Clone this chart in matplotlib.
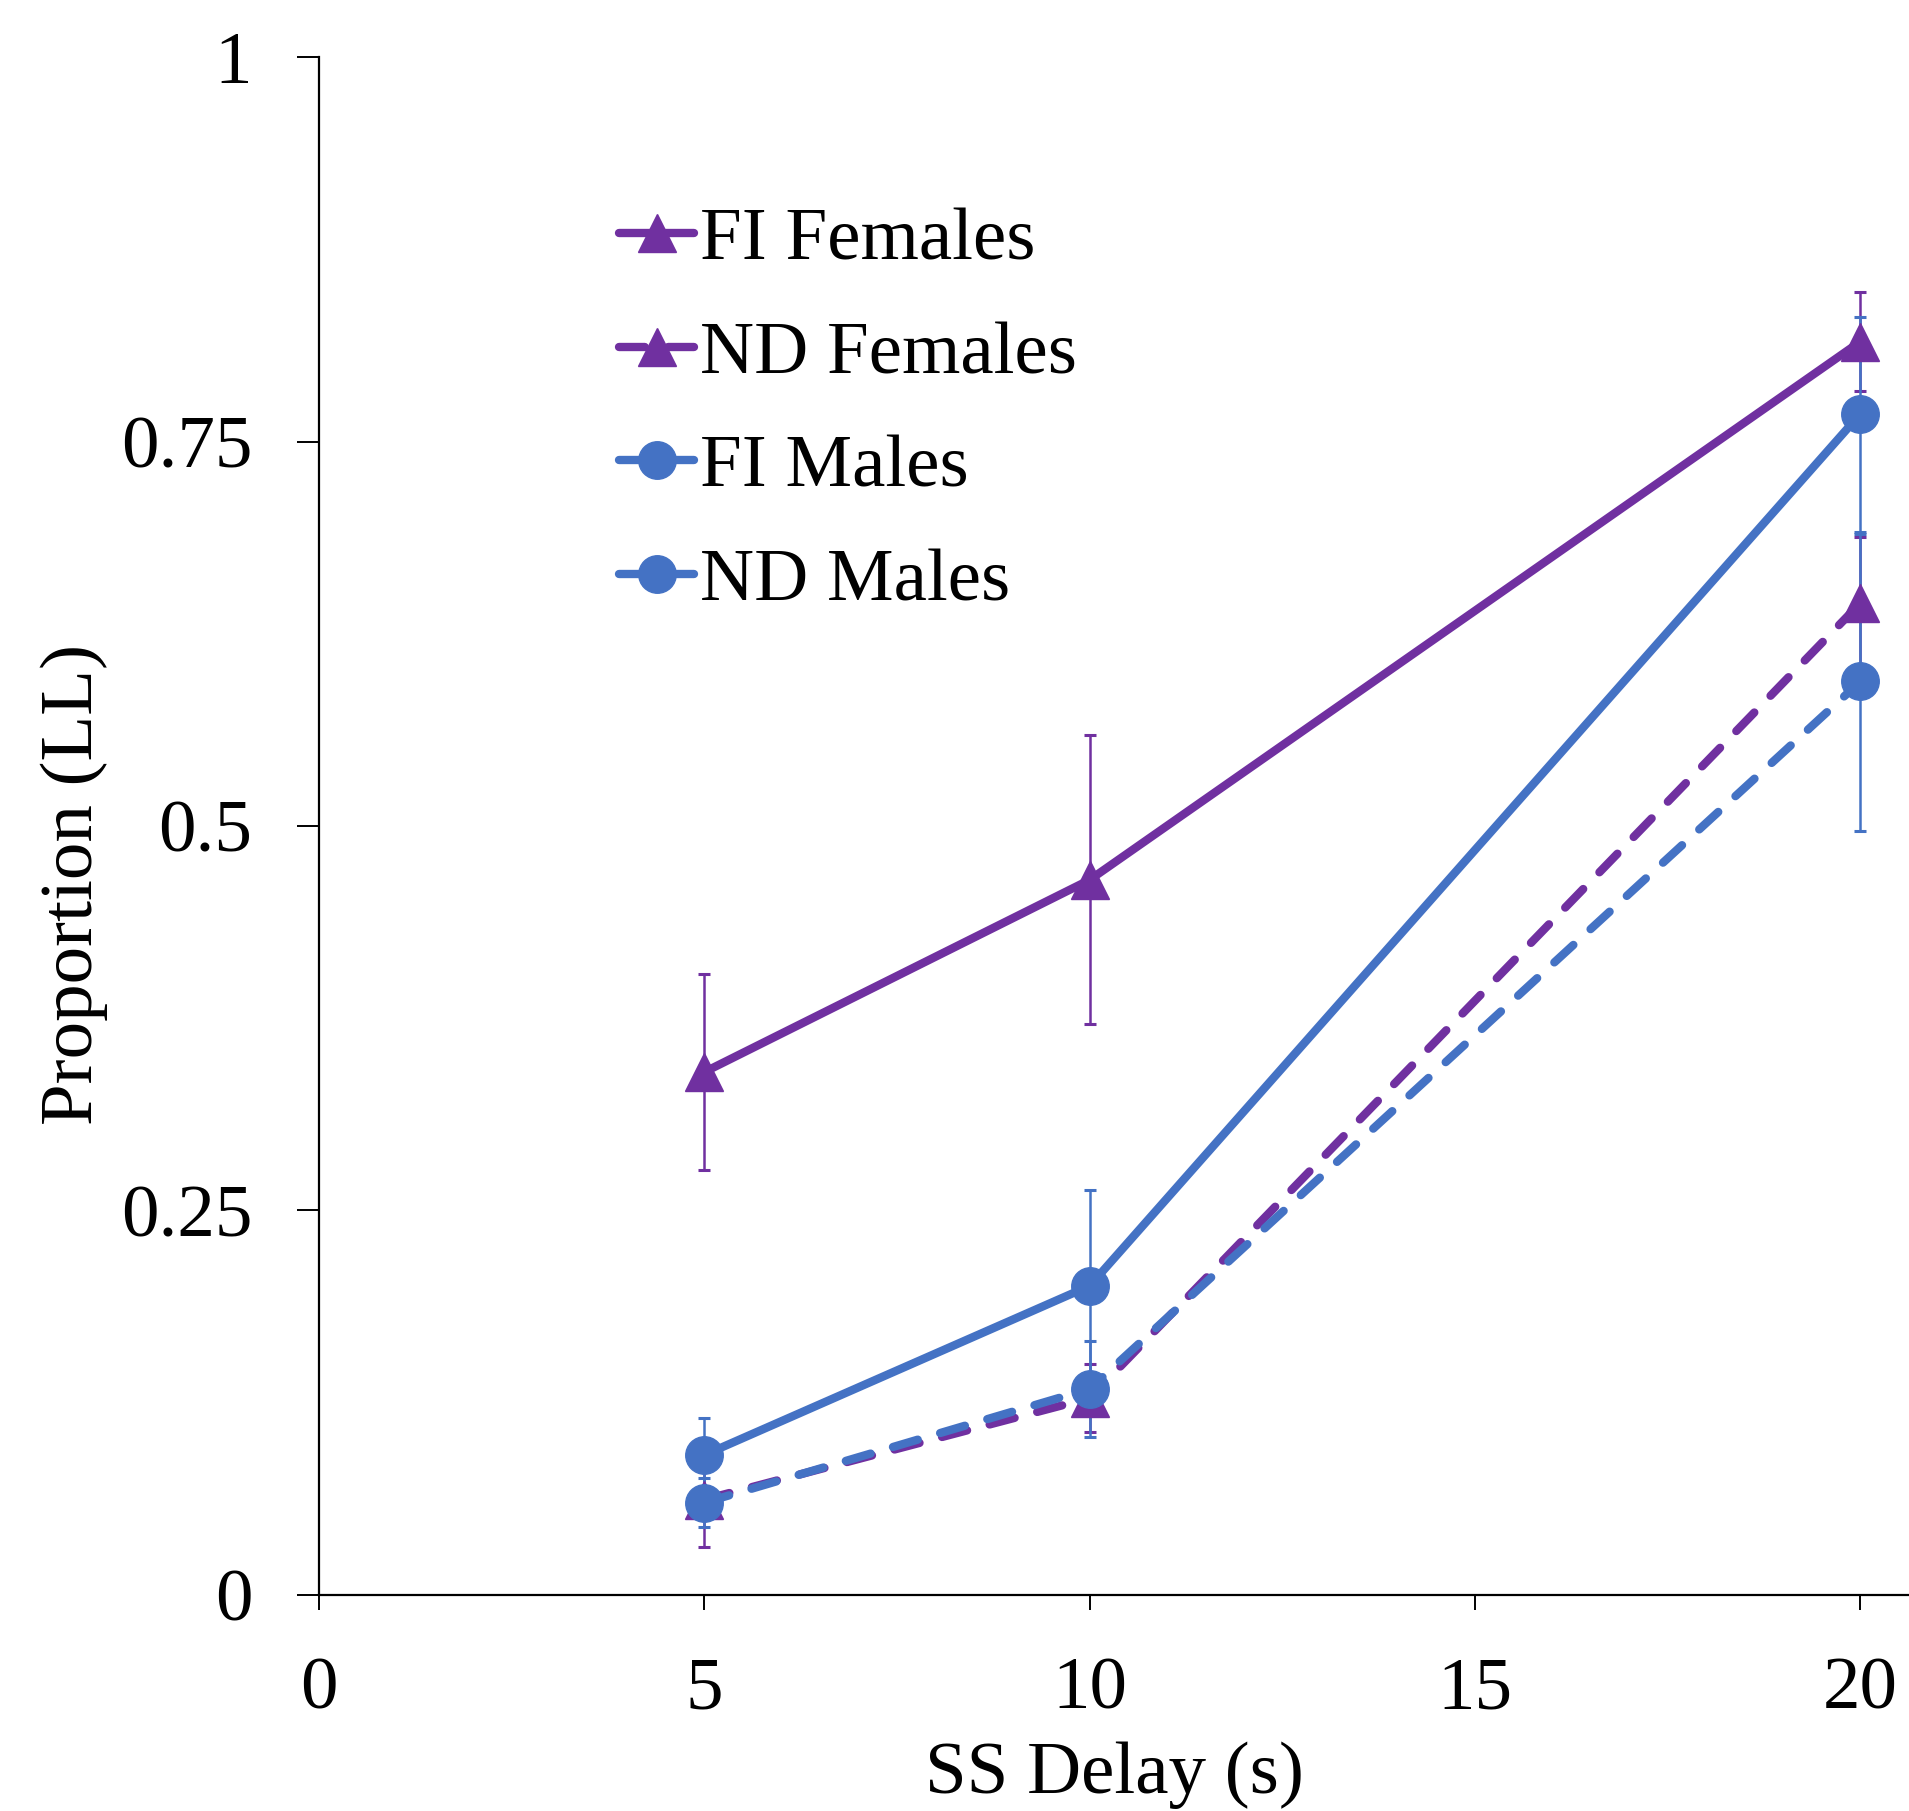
import matplotlib
matplotlib.use("Agg")
import matplotlib.pyplot as plt
import numpy as np

# data
delays = [5, 10, 20]

fi_females = [0.340, 0.465, 0.815]
fi_females_err = [0.064, 0.094, 0.032]

nd_females = [0.062, 0.128, 0.645]
nd_females_err = [0.031, 0.022, 0.043]

fi_males = [0.091, 0.201, 0.768]
fi_males_err_lo = [0.024, 0.062, 0.078]
fi_males_err_hi = [0.024, 0.062, 0.063]

nd_males = [0.060, 0.134, 0.594]
nd_males_err = [0.016, 0.031, 0.097]

purple = "#7030A0"
blue = "#4472C4"

plt.rcParams['font.family'] = ['Liberation Serif', 'DejaVu Serif']

fig = plt.figure(figsize=(19.09, 18.11), dpi=100)
ax = fig.add_axes([0.1671, 0.1193, 0.8329, 0.8492])

series = [
    ("FI Females", fi_females, fi_females_err, purple, "^", "-"),
    ("ND Females", nd_females, nd_females_err, purple, "^", "--"),
    ("FI Males", fi_males, [fi_males_err_lo, fi_males_err_hi], blue, "o", "-"),
    ("ND Males", nd_males, nd_males_err, blue, "o", "--"),
]

for label, vals, errs, col, mk, ls in series:
    ax.errorbar(delays, vals, yerr=errs, fmt="none", ecolor=col,
                elinewidth=1.8, capsize=4.3, capthick=2.2, zorder=2)
    line, = ax.plot(delays, vals, color=col, marker=mk, markersize=27,
                    linewidth=6, linestyle=ls, label=label, zorder=3,
                    solid_capstyle="round")
    if ls == "--":
        line.set_dashes((3.1, 2.8))
        line.set_dash_capstyle("round")

ax.set_xlim(0, 20.63)
ax.set_ylim(0, 1)
ax.set_xticks([0, 5, 10, 15, 20])
ax.set_xticklabels(["0", "5", "10", "15", "20"])
ax.set_yticks([0, 0.25, 0.5, 0.75, 1])
ax.set_yticklabels(["0", "0.25", "0.5", "0.75", "1"])

ax.spines["top"].set_visible(False)
ax.spines["right"].set_visible(False)
ax.spines["left"].set_linewidth(1.6)
ax.spines["bottom"].set_linewidth(1.6)
ax.tick_params(axis="y", direction="out", length=16, width=1.4, pad=32,
               labelsize=54)
ax.tick_params(axis="x", direction="out", length=11, width=1.4, pad=34,
               labelsize=54)

ax.set_xlabel("SS Delay (s)", fontsize=54, labelpad=12)
ax.set_ylabel("Proportion (LL)", fontsize=54)
ax.yaxis.set_label_coords(-0.133, 0.462)

leg = ax.legend(loc="upper left", bbox_to_anchor=(0.17, 0.922), frameon=False,
                fontsize=54, handlelength=1.0, handletextpad=0.08,
                labelspacing=0.6, markerscale=1.0, borderaxespad=0)

fig.savefig("out.png", dpi=100)
